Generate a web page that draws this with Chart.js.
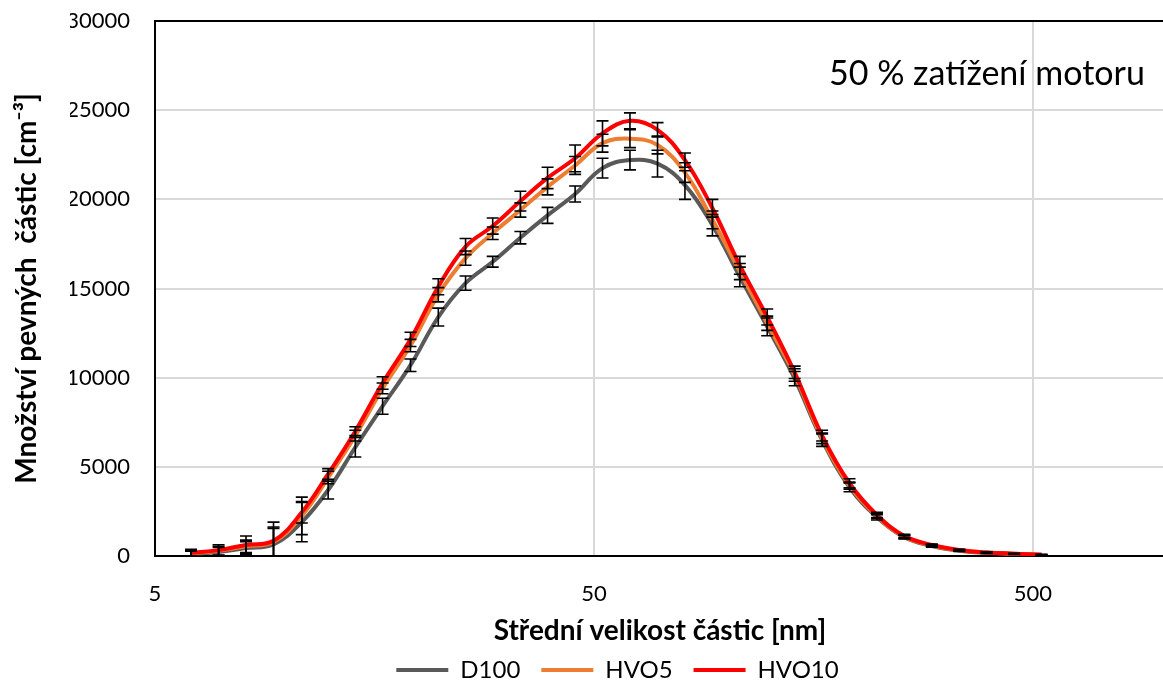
<!DOCTYPE html>
<html lang="cs">
<head>
<meta charset="utf-8">
<title>Velikostní distribuce pevných částic – 50 % zatížení motoru</title>
<script src="https://cdn.jsdelivr.net/npm/chart.js@4.4.1/dist/chart.umd.min.js"></script>
<style>
  html, body { margin: 0; padding: 0; background: #ffffff; overflow: hidden; }
  #wrap { position: absolute; left: 0; top: 0; width: 1170px; height: 684px; }
</style>
</head>
<body>
<div id="wrap"><canvas id="chart" width="1170" height="684"></canvas></div>
<script>
// Střední průměry kanálů (nm)
const sizes = [6.04, 6.98, 8.06, 9.31, 10.8, 12.4, 14.3, 16.5, 19.1, 22.1, 25.5, 29.4, 34.0, 39.2, 45.3, 52.3,
               60.4, 69.8, 80.6, 93.1, 107.5, 124.1, 143.3, 165.5, 191.1, 220.7, 254.8, 294.3, 339.8, 392.4, 453.2, 523.3];

// Počet pevných částic (cm^-3)
const d100 = [120, 230, 450, 650, 1900, 3700, 6100, 8400, 10700, 13400, 15300, 16500, 17850, 19100, 20300, 21750,
              22200, 22000, 20800, 18550, 15650, 12850, 9950, 6500, 3850, 2170, 1050, 560, 300, 180, 110, 65];
const hvo5 = [150, 300, 540, 780, 2250, 4400, 6750, 9400, 11800, 14650, 16700, 18100, 19400, 20700, 21900, 23150,
              23400, 23050, 21500, 18850, 15950, 13050, 10150, 6600, 3950, 2230, 1080, 590, 320, 190, 120, 70];
const hvo10 = [180, 330, 620, 850, 2450, 4600, 7000, 9700, 12150, 15100, 17350, 18500, 19900, 21200, 22300, 23700,
               24400, 23900, 22200, 19500, 16300, 13400, 10300, 6750, 4080, 2300, 1120, 620, 340, 200, 130, 75];

// Směrodatné odchylky (±)
const d100Err = [150, 250, 350, 900, 1100, 500, 550, 450, 350, 500, 400, 300, 350, 450, 450, 550,
                 550, 750, 800, 600, 550, 500, 400, 350, 250, 150, 100, 60, 40, 30, 20, 15];
const hvo5Err = [150, 250, 350, 850, 1050, 350, 300, 300, 350, 400, 400, 350, 400, 450, 500, 500,
                 500, 500, 550, 500, 450, 400, 350, 300, 200, 130, 90, 55, 35, 25, 18, 12];
const hvo10Err = [200, 300, 500, 1050, 600, 300, 250, 350, 400, 450, 450, 450, 550, 600, 750, 700,
                  450, 400, 400, 500, 500, 450, 350, 300, 250, 150, 90, 55, 35, 25, 18, 12];

const seriesNames = ['D100', 'HVO5', 'HVO10'];
const xTicks = [5, 50, 500];
const yTicks = [0, 5000, 10000, 15000, 20000, 25000, 30000];
const loadLabel = '50 % zatížení motoru';

const FONT = 'Lato, "Open Sans", sans-serif';

function points(values) {
  return sizes.map((d, i) => ({ x: d, y: values[i] }));
}

// Chybové úsečky kreslené přes osy grafu
const errorBars = {
  id: 'errorBars',
  afterDatasetsDraw(chart) {
    const { ctx, scales: { x, y } } = chart;
    ctx.save();
    ctx.strokeStyle = '#000000';
    ctx.lineWidth = 1.6;
    chart.data.datasets.forEach((ds) => {
      ds.errors.forEach((e, i) => {
        const px = x.getPixelForValue(sizes[i]);
        const top = y.getPixelForValue(ds.data[i].y + e);
        const bot = y.getPixelForValue(Math.max(0, ds.data[i].y - e));
        ctx.beginPath();
        ctx.moveTo(px, top); ctx.lineTo(px, bot);
        ctx.moveTo(px - 6, top); ctx.lineTo(px + 6, top);
        ctx.moveTo(px - 6, bot); ctx.lineTo(px + 6, bot);
        ctx.stroke();
      });
    });
    ctx.restore();
  }
};

// Popisek režimu zatížení v ploše grafu
const loadNote = {
  id: 'loadNote',
  afterDraw(chart) {
    const { ctx } = chart;
    ctx.save();
    ctx.fillStyle = '#000000';
    ctx.font = '34px ' + FONT;
    ctx.textAlign = 'left';
    ctx.textBaseline = 'middle';
    ctx.fillText(loadLabel, 829, 74);
    ctx.restore();
  }
};

const lineStyle = { borderWidth: 4, pointRadius: 0, pointHoverRadius: 0, tension: 0.4, fill: false };

new Chart(document.getElementById('chart'), {
  type: 'line',
  data: {
    datasets: [
      Object.assign({ label: seriesNames[0], data: points(d100), errors: d100Err, borderColor: '#595959', backgroundColor: '#595959', order: 3 }, lineStyle),
      Object.assign({ label: seriesNames[1], data: points(hvo5), errors: hvo5Err, borderColor: '#ED7D31', backgroundColor: '#ED7D31', order: 2 }, lineStyle),
      Object.assign({ label: seriesNames[2], data: points(hvo10), errors: hvo10Err, borderColor: '#FF0000', backgroundColor: '#FF0000', order: 1 }, lineStyle)
    ]
  },
  options: {
    responsive: false,
    animation: false,
    devicePixelRatio: 1,
    layout: { padding: { left: 70, right: 5, top: 21, bottom: -8 } },
    plugins: {
      tooltip: { enabled: false },
      legend: {
        position: 'bottom',
        labels: {
          sort: (a, b) => a.datasetIndex - b.datasetIndex,
          usePointStyle: true,
          pointStyle: 'line',
          pointStyleWidth: 52,
          boxHeight: 22,
          padding: 21,
          color: '#000000',
          font: { family: FONT, size: 24 }
        }
      }
    },
    scales: {
      x: {
        type: 'logarithmic',
        min: 5,
        max: 1000,
        afterBuildTicks: (s) => { s.ticks = xTicks.map(v => ({ value: v })); },
        afterFit: (s) => { s.height = s.chart.height + 8 - 556 - s.chart.legend.height; },
        ticks: {
          autoSkip: false,
          maxRotation: 0,
          padding: 0,
          color: '#000000',
          font: { family: FONT, size: 22 },
          callback: (v) => String(v)
        },
        grid: { color: '#d9d9d9', lineWidth: 2, drawTicks: true, tickLength: 25, tickColor: 'rgba(0,0,0,0)' },
        border: { color: '#000000', width: 2 },
        title: {
          display: true,
          text: 'Střední velikost částic [nm]',
          color: '#000000',
          font: { family: FONT, size: 28, weight: 'bold' },
          padding: { top: 4, bottom: -11 }
        }
      },
      y: {
        min: 0,
        max: 30000,
        afterBuildTicks: (s) => { s.ticks = yTicks.map(v => ({ value: v })); },
        afterFit: (s) => { s.width = 85; },
        ticks: {
          padding: 0,
          color: '#000000',
          font: { family: FONT, size: 22 },
          callback: (v) => String(v)
        },
        grid: {
          color: (c) => (c.tick && c.tick.value === 30000 ? '#000000' : '#d9d9d9'),
          lineWidth: 2,
          drawTicks: true,
          tickLength: 25,
          tickColor: 'rgba(0,0,0,0)'
        },
        border: { color: '#000000', width: 2 },
        title: {
          display: true,
          text: 'Množství pevných  částic [cm⁻³]',
          color: '#000000',
          font: { family: FONT, size: 28, weight: 'bold' },
          padding: { top: -60, bottom: 0 }
        }
      }
    }
  },
  plugins: [errorBars, loadNote]
});
</script>
</body>
</html>
